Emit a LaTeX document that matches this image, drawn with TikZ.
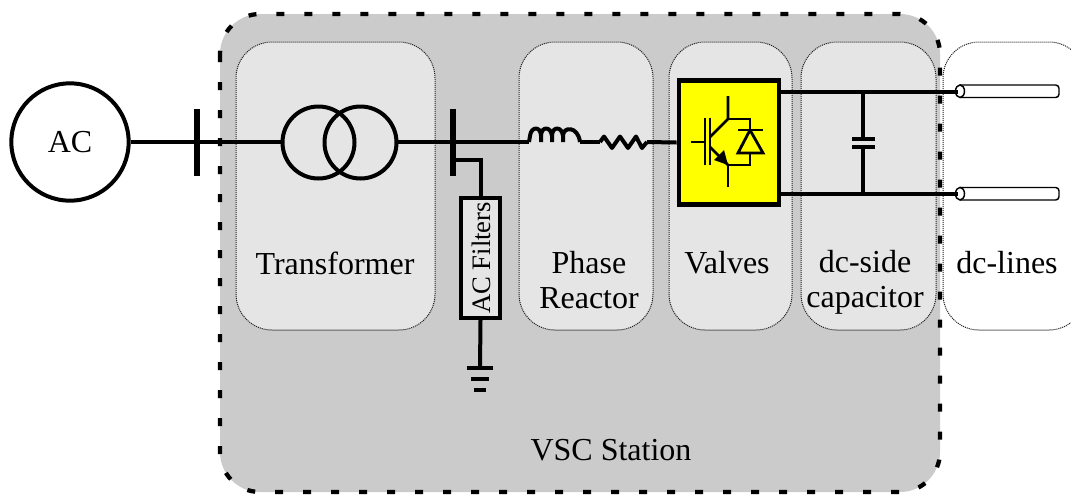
\documentclass[tikz,border=0pt]{standalone}
\usepackage{fontspec}
\setmainfont{Liberation Serif}
\usetikzlibrary{arrows.meta,calc}
\definecolor{stationgray}{HTML}{CBCBCB}
\definecolor{panelgray}{HTML}{E5E5E5}
\definecolor{dotgray}{HTML}{222222}
\definecolor{valveyellow}{RGB}{255,255,0}
\tikzset{
  px/.style={x=0.75pt,y=-0.75pt},
  wire/.style={line width=3pt,black,line join=miter},
  thinwire/.style={line width=2.1pt,black},
  bus/.style={line width=4.2pt,black},
  panel/.style={draw=dotgray,line width=0.75pt,dash pattern=on 0.8pt off 0.7pt,rounded corners=27pt,fill=panelgray,inner sep=0pt},
  lbl/.style={font=\fontsize{24}{26}\selectfont,align=center,inner sep=0pt,text=black},
  cable/.style={draw=black,line width=1.1pt,fill=white},
}
\begin{document}
\begin{tikzpicture}[px]
\useasboundingbox (0,0) rectangle (1071,494);
\clip (0,0) rectangle (1071,494);
% station
\draw[fill=stationgray,draw=black,line width=3.2pt,dash pattern=on 6pt off 15pt,rounded corners=30pt]
  (220,14) rectangle (940,492);
% panels
\draw[panel] (236,42) rectangle (435,330);
\draw[panel] (519,42) rectangle (653,330);
\draw[panel] (669,42) rectangle (792,330);
\draw[panel] (801,42) rectangle (936,330);
\draw[panel,fill=white] (943,42) rectangle (1085,330);
% labels
\node[lbl] (tTrans) at (335,263) {Transformer};
\node[lbl] (tPhase) at (589,280) {Phase\\Reactor};
\node[lbl] (tValves) at (727,263) {Valves};
\node[lbl] (tCap) at (865,282.5) {dc-side\\capacitor};
\node[lbl] (tLines) at (1007,263) {dc-lines};
\node[lbl] (tVSC) at (611,450) {VSC Station};
% source
\node[draw=black,line width=3pt,circle,minimum size=88pt,fill=white,inner sep=0pt,lbl] (ac) at (70,142) {AC};
% buses
\coordinate (b1t) at (197,109); \coordinate (b1b) at (197,176);
\coordinate (b2t) at (453,109); \coordinate (b2b) at (453,176);
\coordinate (b1) at (197,142); \coordinate (b2) at (453,142);
\draw[wire] (ac.east) -- (b1) -- (282,142);
\draw[wire] (397,142) -- (b2) -- (529,142);
\draw[bus] (b1t) -- (b1b);
\draw[bus] (b2t) -- (b2b);
% transformer
\node[draw=black,line width=3pt,circle,minimum size=54pt,inner sep=0pt] (t1) at (318.5,142.5) {};
\node[draw=black,line width=3pt,circle,minimum size=54pt,inner sep=0pt] (t2) at (360.5,142.5) {};
% AC filters
\node[draw=black,line width=3pt,fill=panelgray,minimum width=29pt,minimum height=90pt,inner sep=0pt] (filt) at (480.5,258) {};
\node[rotate=90,font=\fontsize{20}{22}\selectfont,inner sep=0pt] (filtText) at (481,258) {AC Filters};
\coordinate (fj) at (453,160);
\draw[wire] (fj) -| (filt.north);
\coordinate (g1) at (480,368);
\draw[wire] (filt.south) -- (g1);
\draw[wire] (467,368) -- (493,368);
\draw[wire] (471,379) -- (489,379);
\draw[wire] (474,390) -- (486,390);
% inductor
\draw[wire,line join=round] (529,142) -- (530,136)
  .. controls (531,126) and (541,126) .. (541,136) -- (541,142)
  (541,136) .. controls (541,126) and (551,126) .. (552,136) -- (552,142)
  (552,136) .. controls (552,126) and (562,126) .. (563,136) -- (563,142)
  (563,136) .. controls (563,126) and (578,126) .. (580,142);
\coordinate (rl) at (600,142); \coordinate (rr) at (647,142);
\draw[wire] (580,142) -- (rl);
% resistor
\draw[wire,line join=round] (rl) -- (604,136.5) -- (612,148) -- (620,136.5) -- (628,148) -- (636,136.5) -- (642,148) -- (rr);
% valve
\node[draw=black,line width=3.6pt,fill=valveyellow,minimum width=75pt,minimum height=93pt,inner sep=0pt] (valve) at (729,142.5) {};
\draw[wire] (rr) -- (valve.west);
\begin{scope}[thinwire,line join=miter]
\draw (691,142) -- (705,142);
\draw (705,118) -- (705,165);
\draw (710,118) -- (710,165);
\draw (728,96) -- (728,119) -- (710,137);
\draw (728,119) -- (750,119) -- (750,130);
\draw (738,130) -- (763,130);
\draw (750,130) -- (738,153) -- (763,153) -- cycle;
\draw (750,153) -- (750,165) -- (728,165) -- (728,187);
\draw (710,147) -- (728,165);
\fill (728,165) -- (714,160) -- (724,150) -- cycle;
\end{scope}
% dc bus and cables
\draw[cable,rounded corners=2.5pt] (960,85) -- (1059,85) -- (1059,97.5) -- (960,97.5);
\draw[cable] (960,91.2) ellipse [x radius=4.5,y radius=6.3];
\draw[cable,rounded corners=2.5pt] (960,187.5) -- (1059,187.5) -- (1059,200) -- (960,200);
\draw[cable] (960,193.7) ellipse [x radius=4.5,y radius=6.3];
\coordinate (c1) at (958,91.5); \coordinate (c2) at (958,193.5);
\coordinate (cv1) at (863,91.5); \coordinate (cv2) at (863,193.5);
\draw[wire] (valve.east |- c1) -- (cv1) -- (c1);
\draw[wire] (valve.east |- c2) -- (cv2) -- (c2);
\draw[wire] (cv1) -- (863,138); 
\draw[wire] (cv2) -- (863,147);
\draw[wire] (852,138.5) -- (874.5,138.5);
\draw[wire] (852,147) -- (874.5,147);
\end{tikzpicture}
\end{document}
